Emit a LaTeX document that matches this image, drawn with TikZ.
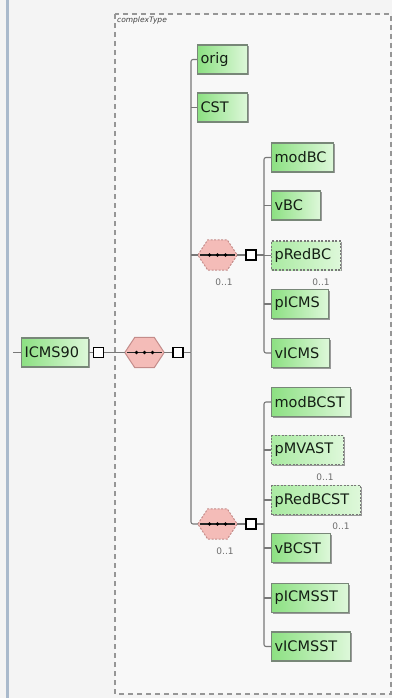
\documentclass[tikz,border=0pt]{standalone}
\usepackage{fontspec}
\setmainfont{DejaVu Sans}
\usetikzlibrary{calc,shadows}
\definecolor{bgc}{RGB}{244,244,244}
\definecolor{inbg}{RGB}{248,248,248}
\definecolor{barc}{RGB}{170,186,204}
\definecolor{framec}{RGB}{150,150,150}
\definecolor{boxline}{RGB}{120,135,120}
\definecolor{gA}{RGB}{140,224,130}
\definecolor{gB}{RGB}{222,248,218}
\definecolor{gC}{RGB}{170,234,162}
\definecolor{hexfill}{RGB}{244,188,184}
\definecolor{hexline}{RGB}{196,140,138}
\definecolor{connc}{RGB}{120,120,120}
\definecolor{txt}{RGB}{20,30,20}
\definecolor{occ}{RGB}{110,110,110}
\tikzset{
  elem/.style={draw=boxline, line width=1.1pt, left color=gA, right color=gB,
    drop shadow={shadow xshift=1.3pt, shadow yshift=-1.3pt, opacity=0.7, fill=black!55},
    anchor=west, text width=#1, inner xsep=3pt, inner ysep=0pt, minimum height=29pt,
    align=left, font=\fontsize{14.5}{17}\selectfont, text=txt},
  optelem/.style={elem=#1, draw=connc, dash pattern=on 2pt off 1.5pt, left color=gC, right color=gB},
  hexbox/.style={minimum width=39pt, minimum height=30pt, inner sep=0pt},
  sqbox/.style={draw=black, line width=1.3pt, fill=white, minimum size=10pt, inner sep=0pt},
  conn/.style={draw=connc, line width=1.1pt},
  occlab/.style={font=\fontsize{9}{10}\selectfont, text=occ, inner sep=0pt},
  seqline/.style={draw=black!85, line width=1.4pt},
  hexdraw/.style={fill=hexfill, draw=hexline, line width=1pt},
}
\newcommand{\hexshape}[2]{%
  \draw[hexdraw,#2] (#1.west) -- ([xshift=10pt]#1.north west) -- ([xshift=-10pt]#1.north east) -- (#1.east) -- ([xshift=-10pt]#1.south east) -- ([xshift=10pt]#1.south west) -- cycle;
  \draw[seqline] ([xshift=2pt]#1.west) -- ([xshift=-2pt]#1.east);
  \fill[black] ([xshift=-8pt]#1.center) circle (1.8pt) (#1.center) circle (1.8pt) ([xshift=8pt]#1.center) circle (1.8pt);
}
\begin{document}
\begin{tikzpicture}[x=1pt,y=-1pt]
\useasboundingbox (0,0) rectangle (392,698);
\fill[bgc] (0,0) rectangle (392,698);
\fill[barc] (5.5,0) rectangle (8.5,698);
% complexType frame
\draw[framec, fill=inbg, line width=1.2pt, dash pattern=on 5pt off 4pt] (115,14) rectangle (391,694);
\node[anchor=north west, inner sep=0pt, font=\fontsize{7.5}{9}\selectfont\itshape, text=black!75] (ctlab) at (117,17) {complexType};

% root element
\coordinate (lin) at (13,352.5);
\node[elem=61] (icms) at (21,352.5) {ICMS90};
\node[sqbox] (sq0) at (98.5,352.5) {};
\node[hexbox] (h1) at (144.5,352.5) {};
\node[sqbox] (sq1) at (178,352.5) {};
\coordinate (b1) at (191,352.5);

% level 1
\node[elem=44] (orig) at (197,59.5) {orig};
\node[elem=44] (cst) at (197,107.5) {CST};
\node[hexbox] (h2) at (217.5,255) {};
\node[sqbox] (sq2) at (251,255) {};
\coordinate (b2) at (264,255);
\node[hexbox] (h3) at (217.5,524) {};
\node[sqbox] (sq3) at (251,524) {};
\coordinate (b3) at (264,524);

% group 1
\node[elem=56] (modbc) at (271,157.5) {modBC};
\node[elem=43] (vbc) at (271,205.5) {vBC};
\node[optelem=63] (predbc) at (271,255.5) {pRedBC};
\node[elem=51] (picms) at (271,304) {pICMS};
\node[elem=52] (vicms) at (271,353) {vICMS};

% group 2
\node[elem=73] (modbcst) at (271,402) {modBCST};
\node[optelem=66] (pmvast) at (271,450) {pMVAST};
\node[optelem=83] (predbcst) at (271,500) {pRedBCST};
\node[elem=53] (vbcst) at (271,548) {vBCST};
\node[elem=71] (picmsst) at (271,598) {pICMSST};
\node[elem=73] (vicmsst) at (271,646.5) {vICMSST};

% hexagons
\hexshape{h1}{}
\hexshape{h2}{dash pattern=on 2pt off 1.5pt}
\hexshape{h3}{dash pattern=on 2pt off 1.5pt}

% occurrence labels
\node[occlab] (o1) at (224,282) {0..1};
\node[occlab] (o2) at (321,282) {0..1};
\node[occlab] (o3) at (325,477) {0..1};
\node[occlab] (o4) at (341,526) {0..1};
\node[occlab] (o5) at (225,551) {0..1};

% connectors
\draw[conn] (lin) -- (icms.west);
\draw[conn] (icms.east) -- (sq0.west);
\draw[conn] (sq0.east) -- (h1.west);
\draw[conn] (h1.east) -- (sq1.west);
\draw[conn] (sq1.east) -- (b1);
\draw[conn, rounded corners=2pt] (orig.west) -| (b1);
\draw[conn, rounded corners=2pt] (h3.west) -| (b1);
\draw[conn] (cst.west) -- (cst.west -| b1);
\draw[conn] (h2.west) -- (h2.west -| b1);

\draw[conn] (h2.east) -- (sq2.west);
\draw[conn] (sq2.east) -- (b2);
\draw[conn, rounded corners=2pt] (modbc.west) -| (b2);
\draw[conn, rounded corners=2pt] (vicms.west) -| (b2);
\draw[conn] (vbc.west) -- (vbc.west -| b2);
\draw[conn] (predbc.west) -- (predbc.west -| b2);
\draw[conn] (picms.west) -- (picms.west -| b2);

\draw[conn] (h3.east) -- (sq3.west);
\draw[conn] (sq3.east) -- (b3);
\draw[conn, rounded corners=2pt] (modbcst.west) -| (b3);
\draw[conn, rounded corners=2pt] (vicmsst.west) -| (b3);
\draw[conn] (pmvast.west) -- (pmvast.west -| b3);
\draw[conn] (predbcst.west) -- (predbcst.west -| b3);
\draw[conn] (vbcst.west) -- (vbcst.west -| b3);
\draw[conn] (picmsst.west) -- (picmsst.west -| b3);
\end{tikzpicture}
\end{document}
